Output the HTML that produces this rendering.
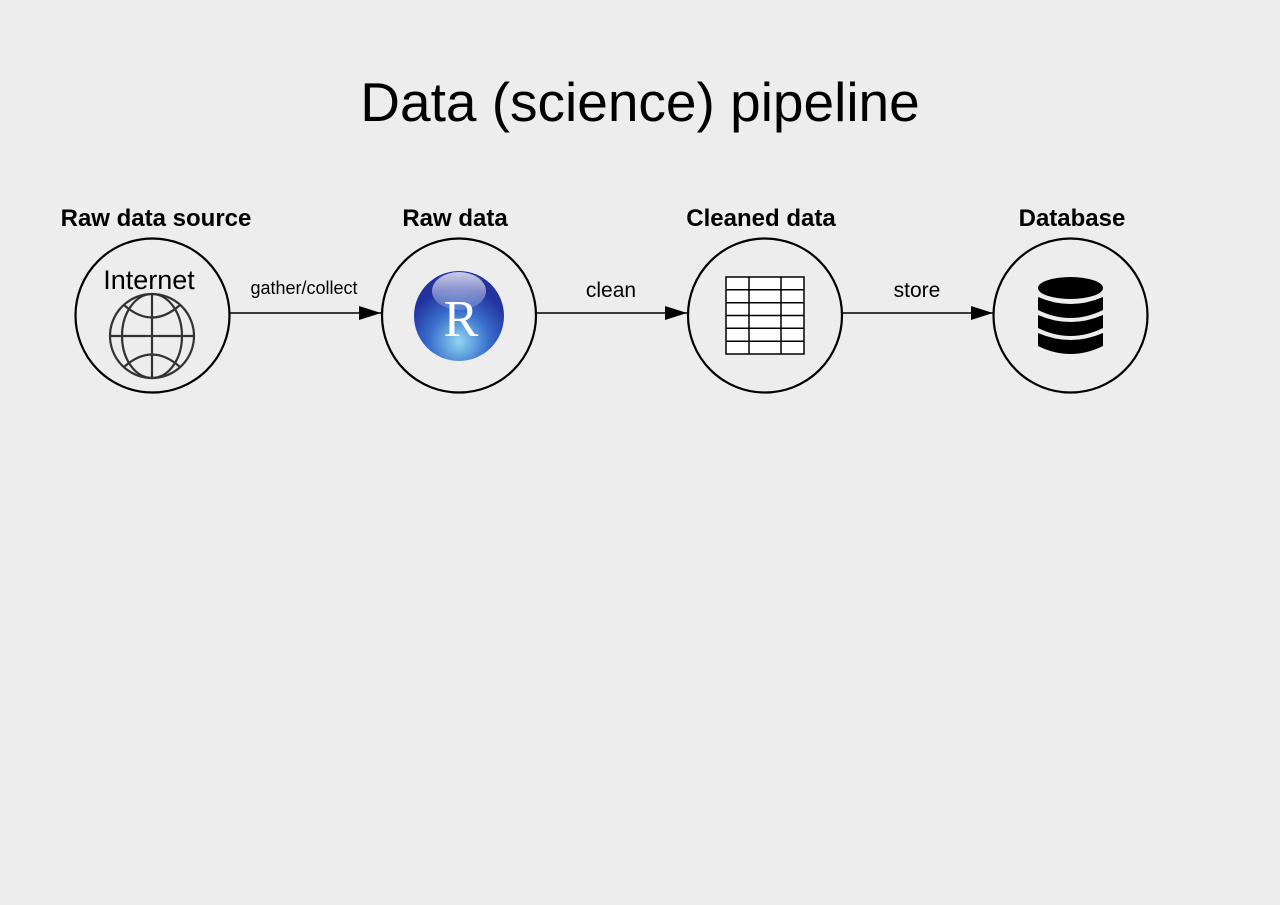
<!DOCTYPE html>
<html><head><meta charset="utf-8"><style>
html,body{margin:0;padding:0;background:#ededed;}
svg{display:block;font-family:"Liberation Sans",sans-serif;}
</style></head><body>
<svg width="1280" height="905" viewBox="0 0 1280 905">
<defs>
<radialGradient id="rg" cx="0.5" cy="0.78" r="0.6">
<stop offset="0" stop-color="#8fd6f0"/><stop offset="0.55" stop-color="#3a6fcc"/><stop offset="1" stop-color="#2233a0"/>
</radialGradient>
<linearGradient id="hl" x1="0" y1="0" x2="0" y2="1"><stop offset="0" stop-color="#fff" stop-opacity="0.75"/><stop offset="1" stop-color="#fff" stop-opacity="0.15"/></linearGradient>
<marker id="ah" markerWidth="22" markerHeight="14" refX="22" refY="7" orient="auto" markerUnits="userSpaceOnUse"><path d="M0,0 L22,7 L0,14 Z" fill="#000"/></marker>
</defs>
<text x="640" y="121" font-size="55" text-anchor="middle">Data (science) pipeline</text>
<g font-size="24" font-weight="bold" text-anchor="middle">
<text x="156" y="226">Raw data source</text>
<text x="455" y="226">Raw data</text>
<text x="761" y="226">Cleaned data</text>
<text x="1072" y="226">Database</text>
</g>
<g fill="none" stroke="#000" stroke-width="2.2">
<circle cx="152.5" cy="315.5" r="77"/>
<circle cx="459" cy="315.5" r="77"/>
<circle cx="765" cy="315.5" r="77"/>
<circle cx="1070.5" cy="315.5" r="77"/>
</g>
<g stroke="#000" stroke-width="1.6">
<line x1="230" y1="313" x2="381" y2="313" marker-end="url(#ah)"/>
<line x1="537" y1="313" x2="687" y2="313" marker-end="url(#ah)"/>
<line x1="843" y1="313" x2="993" y2="313" marker-end="url(#ah)"/>
</g>
<text x="304" y="294" font-size="18" text-anchor="middle">gather/collect</text>
<text x="611" y="297" font-size="21" text-anchor="middle">clean</text>
<text x="917" y="297" font-size="21" text-anchor="middle">store</text>
<text x="149" y="289" font-size="27" text-anchor="middle">Internet</text>
<g fill="none" stroke="#333" stroke-width="2.2">
<circle cx="152" cy="336" r="42"/>
<ellipse cx="152" cy="336" rx="30" ry="42"/>
<line x1="152" y1="294" x2="152" y2="378"/>
<line x1="110" y1="336" x2="194" y2="336"/>
<path d="M124,305 Q152,330 180,305"/>
<path d="M124,367 Q152,342 180,367"/>
</g>
<g>
<circle cx="459" cy="316" r="45" fill="url(#rg)"/>
<ellipse cx="459" cy="291" rx="27" ry="19" fill="url(#hl)"/>
<text x="461" y="336" font-size="52" fill="#fff" text-anchor="middle" font-family="Liberation Serif,serif">R</text>
</g>
<g fill="#fff" stroke="#000" stroke-width="1.5">
<rect x="726" y="277" width="78" height="77"/>
<g stroke="#000">
<line x1="726" y1="289.8" x2="804" y2="289.8"/><line x1="726" y1="302.7" x2="804" y2="302.7"/>
<line x1="726" y1="315.5" x2="804" y2="315.5"/><line x1="726" y1="328.3" x2="804" y2="328.3"/>
<line x1="726" y1="341.2" x2="804" y2="341.2"/>
<line x1="749" y1="277" x2="749" y2="354"/><line x1="781" y1="277" x2="781" y2="354"/>
</g>
</g>
<g fill="#000">
<ellipse cx="1070.5" cy="288" rx="32.5" ry="11"/>
<path d="M1038,297 Q1070.5,311 1103,297 L1103,310 Q1070.5,326 1038,310 Z"/>
<path d="M1038,315 Q1070.5,329 1103,315 L1103,328 Q1070.5,344 1038,328 Z"/>
<path d="M1038,333 Q1070.5,347 1103,333 L1103,346 Q1070.5,362 1038,346 Z"/>
</g>
</svg>
</body></html>
